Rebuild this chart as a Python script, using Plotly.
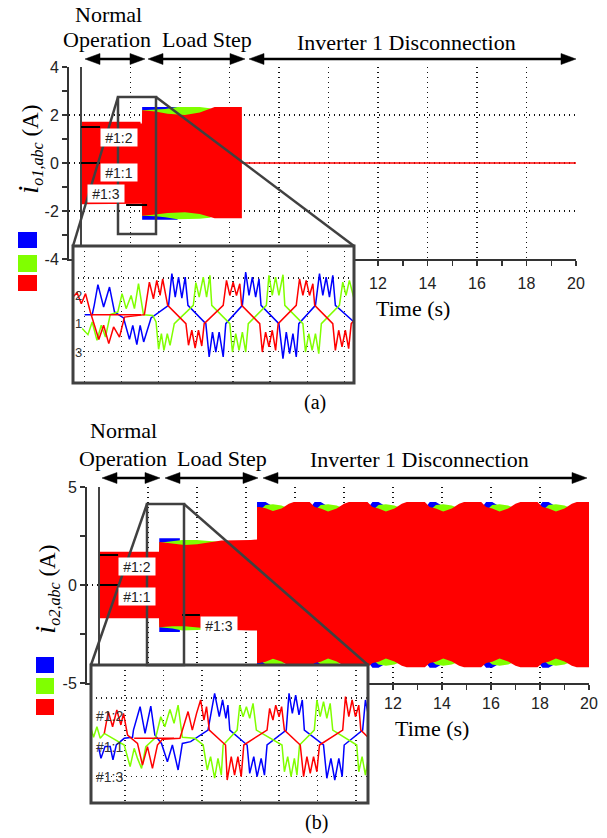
import plotly.graph_objects as go

W, H = 607, 838
def px(x): return x / W
def py(y): return 1 - y / H

BLUE, GREEN, RED = '#0000FF', '#80FF00', '#FF0000'
FRAME = '#404040'
SERIF, SANS = 'Liberation Serif', 'Liberation Sans'

# ---------------- Panel (a): i_o1 envelope (A) vs time (s) ----------------
A_T = [0.0, 2.40, 2.41, 2.46, 2.47, 3.0, 3.5, 4.2, 4.8, 5.2, 5.4, 6.5]
A_RED_UP = [1.72, 1.72, 1.65, 1.65, 2.20, 2.15, 2.05, 2.00, 2.10, 2.25, 2.33, 2.33]
A_RED_LO = [-1.72, -1.72, -1.70, -1.70, -2.20, -2.15, -2.08, -2.05, -2.12, -2.25, -2.30, -2.30]
A_BLUE_T = [2.47, 3.9]
A_BLUE_UP = [2.33, 2.33]
A_BLUE_LO = [-2.36, -2.36]
A_GREEN_T = [2.47, 3.0, 3.4, 3.9, 4.8, 5.2, 5.4]
A_GREEN_UP = [2.20, 2.22, 2.25, 2.33, 2.33, 2.28, 2.20]
A_GREEN_LO = [-2.20, -2.22, -2.26, -2.34, -2.32, -2.28, -2.20]
A_OFF_T = [6.5, 20.0]
A_OFF_I = [0.0, 0.0]
A_CURSOR_T0 = [0.0, 0.0, 1.82]
A_CURSOR_T1 = [0.77, 0.77, 2.67]
A_CURSOR_I = [1.5, 0.0, -1.75]

# ---------------- Panel (b): i_o2 envelope (A) vs time (s) ----------------
B_T12 = [0.0, 2.45, 2.46, 3.0, 3.5, 4.0, 4.5, 5.0, 6.2, 6.45]
B_RED_UP12 = [1.70, 1.70, 2.20, 2.10, 2.04, 2.08, 2.18, 2.27, 2.30, 2.32]
B_RED_LO12 = [-1.70, -1.70, -2.15, -2.10, -2.10, -2.14, -2.22, -2.28, -2.32, -2.32]
B_BLUE_T2 = [2.46, 3.3]
B_BLUE_UP2 = [2.38, 2.38]
B_BLUE_LO2 = [-2.40, -2.40]
B_GREEN_T2 = [2.46, 3.0, 3.4, 4.0, 4.6, 5.0]
B_GREEN_UP2 = [2.15, 2.22, 2.30, 2.30, 2.26, 2.20]
B_GREEN_LO2 = [-2.15, -2.22, -2.32, -2.30, -2.26, -2.20]
B_T3 = [6.45, 6.55, 6.8, 7.1, 7.45, 7.75, 7.95,
        8.6, 8.8, 9.05, 9.35, 9.7, 10.0, 10.2,
        10.96, 11.16, 11.41, 11.71, 12.06, 12.36, 12.56,
        13.3, 13.5, 13.75, 14.05, 14.4, 14.7, 14.9,
        15.6, 15.8, 16.05, 16.35, 16.7, 17.0, 17.2,
        17.9, 18.1, 18.35, 18.65, 19.0, 19.3, 19.5, 20.0]
B_RED_UP3 = [3.98, 3.98, 3.92, 3.78, 3.90, 4.15, 4.23,
             4.23, 3.98, 3.90, 3.75, 3.90, 4.15, 4.23,
             4.23, 3.98, 3.90, 3.75, 3.90, 4.15, 4.23,
             4.23, 3.98, 3.90, 3.75, 3.90, 4.15, 4.23,
             4.23, 3.98, 3.90, 3.75, 3.90, 4.15, 4.23,
             4.23, 3.98, 3.90, 3.75, 3.90, 4.15, 4.23, 4.23]
B_RED_LO3 = [-3.98, -3.98, -3.92, -3.76, -3.90, -4.12, -4.20,
             -4.20, -3.98, -3.92, -3.75, -3.90, -4.12, -4.20,
             -4.20, -3.98, -3.92, -3.75, -3.90, -4.12, -4.20,
             -4.20, -3.98, -3.92, -3.75, -3.90, -4.12, -4.20,
             -4.20, -3.98, -3.92, -3.75, -3.90, -4.12, -4.20,
             -4.20, -3.98, -3.92, -3.75, -3.90, -4.12, -4.20, -4.20]
B_BLUE_UP3 = [4.23, 4.23, 4.23, 4.00, 3.80, 3.80, 3.90,
              3.90, 4.23, 4.23, 4.00, 3.80, 3.80, 3.90,
              3.90, 4.23, 4.23, 4.00, 3.80, 3.80, 3.90,
              3.90, 4.23, 4.23, 4.00, 3.80, 3.80, 3.90,
              3.90, 4.23, 4.23, 4.00, 3.80, 3.80, 3.90,
              3.90, 4.23, 4.23, 4.00, 3.80, 3.80, 3.90, 3.90]
B_BLUE_LO3 = [-4.22, -4.22, -4.22, -4.00, -3.80, -3.80, -3.90,
              -3.90, -4.22, -4.22, -4.00, -3.80, -3.80, -3.90,
              -3.90, -4.22, -4.22, -4.00, -3.80, -3.80, -3.90,
              -3.90, -4.22, -4.22, -4.00, -3.80, -3.80, -3.90,
              -3.90, -4.22, -4.22, -4.00, -3.80, -3.80, -3.90,
              -3.90, -4.22, -4.22, -4.00, -3.80, -3.80, -3.90, -3.90]
B_GREEN_UP3 = [3.80, 3.80, 4.08, 4.12, 4.05, 3.90, 3.80,
               3.80, 3.80, 4.08, 4.12, 4.05, 3.90, 3.80,
               3.80, 3.80, 4.08, 4.12, 4.05, 3.90, 3.80,
               3.80, 3.80, 4.08, 4.12, 4.05, 3.90, 3.80,
               3.80, 3.80, 4.08, 4.12, 4.05, 3.90, 3.80,
               3.80, 3.80, 4.08, 4.12, 4.05, 3.90, 3.80, 3.80]
B_GREEN_LO3 = [-3.80, -3.80, -4.05, -4.12, -4.05, -3.90, -3.80,
               -3.80, -3.80, -4.05, -4.12, -4.05, -3.90, -3.80,
               -3.80, -3.80, -4.05, -4.12, -4.05, -3.90, -3.80,
               -3.80, -3.80, -4.05, -4.12, -4.05, -3.90, -3.80,
               -3.80, -3.80, -4.05, -4.12, -4.05, -3.90, -3.80,
               -3.80, -3.80, -4.05, -4.12, -4.05, -3.90, -3.80, -3.80]
B_CURSOR_T0 = [0.04, 0.04, 3.39]
B_CURSOR_T1 = [0.78, 0.78, 4.12]
B_CURSOR_I = [1.53, 0.0, -1.53]

# ---------------- Inset (a): zoomed waveforms, time in ms, current in A ----------------
INA_BLUE_T = [63, 104, 115, 135, 166, 198, 225, 274, 306, 324, 346, 364, 383, 423,
              518, 536, 554, 572, 590, 608, 623, 720, 738, 756, 774, 792, 814, 828,
              918, 936, 954, 972, 990, 1008, 1019, 1116, 1138, 1156, 1174, 1192, 1210, 1224,
              1314, 1336, 1354, 1372, 1390, 1408, 1422, 1523]
INA_BLUE_I = [0, 0, 0.51, 1.64, 0.42, 1.51, 0.15, -0.18, -1.35, -0.58, -1.64, -0.58, -1.49, -0.18,
              0.51, 2.24, 0.96, 2.05, 0.91, 2.05, 0.51, -0.49, -2.31, -0.95, -2.04, -0.95, -2.31, -0.49,
              0.51, 2.33, 1.05, 2.05, 0.96, 1.96, 0.51, -0.49, -2.4, -0.95, -2.13, -1.04, -2.31, -0.49,
              0.51, 2.24, 1.05, 2.05, 0.96, 2.15, 0.51, -0.4]
INA_GREEN_T = [50, 81, 104, 130, 153, 176, 202, 243, 266, 288, 315, 333, 355, 382,
               432, 450, 464, 479, 493, 511, 526, 549, 652, 666, 684, 706, 724, 742, 752,
               850, 864, 882, 900, 918, 936, 950, 1048, 1062, 1080, 1098, 1116, 1138, 1148,
               1246, 1260, 1278, 1296, 1314, 1332, 1346, 1444, 1462, 1480, 1498, 1523]
INA_GREEN_I = [-0.76, -1.09, -0.4, -1.4, -0.58, -1.22, 0, 0.15, 1.15, 0.33, 1.05, 0.33, 1.69, 0,
               -0.04, -0.4, -1.89, -1.04, -1.95, -1.04, -1.67, -0.49, 0.51, 1.75, 0.96, 2.05, 0.96, 2.15, 0.51,
               -0.49, -2.04, -1.04, -1.95, -0.95, -2.04, -0.49, 0.51, 2.15, 1.05, 2.05, 1.05, 2.18, 0.51,
               -0.49, -2.04, -1.04, -1.95, -1.04, -2.13, -0.49, 0.51, 1.78, 1.05, 1.87, 0.87]
INA_RED_T = [0, 22, 45, 68, 94, 112, 140, 166, 194, 220, 252, 279,
             387, 414, 436, 454, 472, 486, 513, 612, 626, 644, 662, 680, 698, 711,
             814, 832, 850, 868, 886, 904, 914, 1012, 1026, 1044, 1062, 1080, 1098, 1112,
             1210, 1228, 1246, 1264, 1282, 1300, 1310, 1408, 1422, 1440, 1458, 1476, 1494, 1508, 1523]
INA_RED_I = [0.96, 1.2, 0.6, 1.15, 0.15, -0.49, -1.35, -0.58, -1.58, -0.67, -1.22, -0.13,
             0, 1.78, 0.87, 1.87, 1.05, 1.96, 0.51, -0.49, -1.67, -0.85, -1.82, -0.85, -1.71, -0.49,
             0.51, 1.87, 1.05, 1.78, 1.05, 1.69, 0.51, -0.49, -2.04, -0.95, -1.76, -0.85, -1.95, -0.49,
             0.51, 1.96, 1.05, 1.87, 1.05, 1.69, 0.51, -0.49, -1.95, -0.85, -1.76, -0.85, -1.85, -0.49, -0.31]
INA_RED_FLAT_T = [99, 369]
INA_RED_FLAT_I = [0, 0]

# ---------------- Inset (b) ----------------
INB_BLUE_T = [40, 54, 76, 104, 119, 137, 180, 225, 230, 266, 293, 324, 346, 382, 414, 441, 472, 495,
              540, 634, 670, 695, 713, 731, 742, 752, 846, 860, 882, 900, 922, 940, 954,
              1058, 1073, 1091, 1109, 1127, 1145, 1156, 1260, 1278, 1300, 1321, 1343, 1361, 1372,
              1472, 1487, 1501]
INB_BLUE_I = [-0.47, -1.07, -0.47, -0.47, -1.15, -0.39, -0.05, 0, 0.37, 1.56, 0.2, 1.59, 0.12,
              -0.31, -1.24, -0.39, -1.66, -0.31, -0.22, 0.37, 2.24, 1.05, 1.9, 0.97, 1.64, 0.37,
              -0.39, -1.83, -0.98, -2.0, -1.07, -1.92, -0.39, 0.37, 2.24, 1.22, 2.15, 1.14, 1.9, 0.37,
              -0.39, -2.08, -1.07, -2.17, -1.07, -2.0, -0.39, 0.37, 1.9, 1.22]
INB_RED_T = [72, 94, 117, 140, 162, 176, 198, 252, 279, 306, 333, 360, 387,
             482, 526, 549, 572, 594, 612, 626, 641, 729, 738, 760, 778, 796, 814, 828,
             954, 968, 986, 1001, 1019, 1033, 1048, 1134, 1152, 1170, 1188, 1206, 1224, 1238,
             1364, 1379, 1397, 1415, 1433, 1451, 1462, 1501]
INB_RED_I = [0.2, 1.31, 0.54, 1.39, 0.63, 1.22, 0.12, -0.31, -1.41, -0.47, -1.58, -0.39, -0.1,
             -0.05, 1.31, 0.37, 1.22, 1.9, 0.88, 1.56, 0.37, -0.39, -2.17, -0.98, -1.92, -0.98, -2.0, -0.39,
             0.37, 1.47, 0.88, 1.64, 1.05, 1.56, 0.37, -0.39, -2.0, -0.98, -1.83, -0.98, -1.75, -0.39,
             0.37, 2.07, 1.05, 1.9, 1.05, 1.64, 0.37, 0]
INB_RED_FLAT_T = [234, 450]
INB_RED_FLAT_I = [-0.05, -0.05]
INB_GREEN_T = [0, 14, 32, 50, 72, 180, 212, 234, 252, 274, 297, 351, 378, 400, 428, 450, 472, 495,
               562, 608, 630, 648, 670, 688, 706, 716, 792, 806, 824, 842, 860, 878, 896,
               1035, 1048, 1066, 1084, 1102, 1116, 1130, 1210, 1224, 1242, 1260, 1278, 1296, 1310,
               1440, 1451, 1469, 1487, 1501]
INB_GREEN_I = [0.46, 0, 0.54, -0.05, 0.2, -0.39, -1.49, -0.56, -1.07, -1.58, -0.47, 0, 1.05, 0.54,
               1.42, 0.71, 1.64, 0, -0.05, -0.39, -1.66, -0.98, -2.08, -1.07, -1.92, -0.39,
               0.37, 1.64, 1.05, 1.56, 0.97, 1.73, 0.37, -0.39, -1.75, -0.98, -2.0, -1.07, -1.92, -0.39,
               0.37, 1.9, 1.05, 1.81, 0.97, 1.73, 0.37, -0.39, -1.75, -0.98, -1.92, -1.15]

# tick labels
A_Y_TICKS = [-4, -2, 0, 2, 4]
B_Y_TICKS = [-5, 0, 5]
X_TICKS = [0, 2, 4, 6, 8, 10, 12, 14, 16, 18, 20]

fig = go.Figure()

def add_band(t, up, lo, color, xa, ya):
    x = list(t) + list(t)[::-1]
    y = list(up) + list(lo)[::-1]
    fig.add_trace(go.Scatter(x=x, y=y, fill='toself', fillcolor=color, mode='lines',
                             line=dict(width=0, color=color), xaxis=xa, yaxis=ya,
                             hoverinfo='skip'))

def add_line(t, v, color, xa, ya, w=1.5):
    fig.add_trace(go.Scatter(x=t, y=v, mode='lines', line=dict(color=color, width=w),
                             xaxis=xa, yaxis=ya, hoverinfo='skip'))

# panel (a)
add_band(A_BLUE_T, A_BLUE_UP, A_BLUE_LO, BLUE, 'x', 'y')
add_band(A_GREEN_T, A_GREEN_UP, A_GREEN_LO, GREEN, 'x', 'y')
add_band(A_T, A_RED_UP, A_RED_LO, RED, 'x', 'y')
add_line(A_OFF_T, A_OFF_I, RED, 'x', 'y', 1.6)

# panel (b)
add_band(B_BLUE_T2, B_BLUE_UP2, B_BLUE_LO2, BLUE, 'x2', 'y2')
add_band(B_T3, B_BLUE_UP3, B_BLUE_LO3, BLUE, 'x2', 'y2')
add_band(B_GREEN_T2, B_GREEN_UP2, B_GREEN_LO2, GREEN, 'x2', 'y2')
add_band(B_T3, B_GREEN_UP3, B_GREEN_LO3, GREEN, 'x2', 'y2')
add_band(B_T12 + B_T3, B_RED_UP12 + B_RED_UP3, B_RED_LO12 + B_RED_LO3, RED, 'x2', 'y2')

# inset (a)
add_line(INA_BLUE_T, INA_BLUE_I, BLUE, 'x3', 'y3')
add_line(INA_GREEN_T, INA_GREEN_I, GREEN, 'x3', 'y3')
add_line(INA_RED_FLAT_T, INA_RED_FLAT_I, RED, 'x3', 'y3')
add_line(INA_RED_T, INA_RED_I, RED, 'x3', 'y3')
# inset (b)
add_line(INB_BLUE_T, INB_BLUE_I, BLUE, 'x4', 'y4')
add_line(INB_GREEN_T, INB_GREEN_I, GREEN, 'x4', 'y4')
add_line(INB_RED_FLAT_T, INB_RED_FLAT_I, RED, 'x4', 'y4')
add_line(INB_RED_T, INB_RED_I, RED, 'x4', 'y4')

DOT = '1px,4px'
tickfont = dict(family=SANS, size=16, color='#222')

def main_x(dom, rng, anchor, standoff):
    return dict(domain=dom, range=rng, anchor=anchor, showline=True, linecolor='#333', linewidth=2,
                ticks='outside', ticklen=5, tickwidth=1.5, tickcolor='#333',
                tickvals=X_TICKS, ticktext=[str(v) for v in X_TICKS],
                minor=dict(dtick=1, tick0=0, ticks='outside', ticklen=5, tickwidth=1.5, tickcolor='#333'),
                showgrid=True, gridcolor='#111', gridwidth=1.3, griddash=DOT, zeroline=False,
                tickfont=tickfont, ticklabelstandoff=standoff, fixedrange=True, automargin=False)

def main_y(dom, rng, anchor, ticks, minor):
    return dict(domain=dom, range=rng, anchor=anchor, showline=True, linecolor='#333', linewidth=2,
                ticks='outside', ticklen=5, tickwidth=1.5, tickcolor='#333',
                tickvals=ticks, ticktext=[str(v) for v in ticks],
                minor=dict(dtick=minor, tick0=0, ticks='outside', ticklen=5, tickwidth=1.5, tickcolor='#333'),
                showgrid=True, gridcolor='#111', gridwidth=1.3, griddash=DOT, zeroline=False,
                tickfont=tickfont, fixedrange=True, automargin=False)

def inset_x(dom, rng, anchor, t0, dt):
    return dict(domain=dom, range=rng, anchor=anchor, showticklabels=False, ticks='', showline=False,
                tick0=t0, dtick=dt, showgrid=True, gridcolor='#222', gridwidth=1.2, griddash=DOT,
                zeroline=False, fixedrange=True, automargin=False)

def inset_y(dom, rng, anchor):
    return dict(domain=dom, range=rng, anchor=anchor, showticklabels=False, ticks='', showline=False,
                tickvals=[-2, 2], showgrid=True, gridcolor='#222', gridwidth=1.2, griddash=DOT,
                zeroline=False, fixedrange=True, automargin=False)

fig.update_layout(
    width=W, height=H, margin=dict(l=0, r=0, t=0, b=0, autoexpand=False),
    paper_bgcolor='white', plot_bgcolor='white', showlegend=False,
    xaxis=main_x([px(69), px(576)], [-0.485, 20], 'y', 4),
    yaxis=main_y([py(259), py(67)], [-4, 4], 'x', A_Y_TICKS, 1),
    xaxis2=main_x([px(87), px(589)], [-0.49, 20], 'y2', 0),
    yaxis2=main_y([py(683), py(487)], [-5, 5], 'x2', B_Y_TICKS, 2.5),
    xaxis3=inset_x([px(73), px(354)], [0, 1523], 'y3', 63, 201),
    yaxis3=inset_y([py(383), py(246)], [-3.73, 3.75], 'x3'),
    xaxis4=inset_x([px(91), px(368)], [0, 1501], 'y4', 184, 208.7),
    yaxis4=inset_y([py(803), py(665)], [-3.34, 3.68], 'x4'),
)

shapes = []
ann = []

def pline(x0, y0, x1, y1, color=FRAME, w=2.5):
    shapes.append(dict(type='line', xref='paper', yref='paper', x0=px(x0), y0=py(y0), x1=px(x1), y1=py(y1),
                       line=dict(color=color, width=w), layer='above'))

def prect(x0, y0, x1, y1, color=FRAME, w=2.5, fill=None):
    shapes.append(dict(type='rect', xref='paper', yref='paper', x0=px(x0), y0=py(y0), x1=px(x1), y1=py(y1),
                       line=dict(color=color, width=w), fillcolor=fill, layer='above'))

def tri(xt, y, xb, half):
    p = f'M {px(xt)},{py(y)} L {px(xb)},{py(y - half)} L {px(xb)},{py(y + half)} Z'
    shapes.append(dict(type='path', xref='paper', yref='paper', path=p, fillcolor='black',
                       line=dict(color='black', width=0.5), layer='above'))

def darrow(x0, x1, y, head=15, half=5.5):
    pline(x0 + head - 2, y, x1 - head + 2, y, 'black', 2.5)
    tri(x0, y, x0 + head, half)
    tri(x1, y, x1 - head, half)

def text(x, y, s, size=22, family=SERIF, color='black', **kw):
    ann.append(dict(xref='paper', yref='paper', x=px(x), y=py(y), text=s, showarrow=False,
                    xanchor='center', yanchor='middle', font=dict(family=family, size=size, color=color), **kw))

# inset white backgrounds (drawn in inset subplot, under its grid)
shapes.append(dict(type='rect', xref='x3', yref='y3', x0=0, x1=1523, y0=-3.73, y1=3.75,
                   fillcolor='white', line=dict(width=0), layer='below'))
shapes.append(dict(type='rect', xref='x4', yref='y4', x0=0, x1=1501, y0=-3.34, y1=3.68,
                   fillcolor='white', line=dict(width=0), layer='below'))

# t = 0 reference lines
shapes.append(dict(type='line', xref='x', yref='y', x0=0, x1=0, y0=-3.45, y1=4,
                   line=dict(color='#444', width=2), layer='above'))
shapes.append(dict(type='line', xref='x2', yref='y2', x0=0, x1=0, y0=-4.08, y1=5,
                   line=dict(color='#444', width=2), layer='above'))
# cursor markers
for t0, t1, v in zip(A_CURSOR_T0, A_CURSOR_T1, A_CURSOR_I):
    shapes.append(dict(type='line', xref='x', yref='y', x0=t0, x1=t1, y0=v, y1=v,
                       line=dict(color='black', width=2), layer='above'))
for t0, t1, v in zip(B_CURSOR_T0, B_CURSOR_T1, B_CURSOR_I):
    shapes.append(dict(type='line', xref='x2', yref='y2', x0=t0, x1=t1, y0=v, y1=v,
                       line=dict(color='black', width=2), layer='above'))

# zoom boxes, connectors and inset frames
prect(118, 97, 156, 234)
pline(118, 97, 73, 246)
pline(156, 97, 354, 246)
prect(73, 246, 354, 383, w=3)
prect(147, 504, 184, 665)
pline(147, 504, 91, 665)
pline(184, 504, 368, 665)
prect(91, 665, 368, 803, w=3)

# legend squares
for (x0, y0, x1, y1, c) in [(18, 232, 37, 248, BLUE), (18, 255, 37, 272, GREEN), (18, 275, 37, 291, RED),
                            (36, 657, 54, 673, BLUE), (36, 678, 54, 694, GREEN), (36, 699, 54, 715, RED)]:
    shapes.append(dict(type='rect', xref='paper', yref='paper', x0=px(x0), y0=py(y0), x1=px(x1), y1=py(y1),
                       fillcolor=c, line=dict(width=0), layer='above'))

# period arrows
darrow(85, 145, 59); darrow(148, 245, 59); darrow(249, 576, 59)
darrow(102, 160, 478); darrow(165, 258, 478); darrow(263, 587, 478)

# period texts
text(108, 14, 'Normal'); text(107, 40, 'Operation'); text(207, 40, 'Load Step')
text(406, 42, 'Inverter 1 Disconnection')
text(123, 431, 'Normal'); text(123, 458, 'Operation'); text(222, 458, 'Load Step')
text(419, 459, 'Inverter 1 Disconnection')

# axis titles
text(413, 308, 'Time (s)')
text(432, 728, 'Time (s)')
text(28, 150, "<i><span style='font-size:30px'>i</span><sub>o1,abc</sub></i> (A)", size=23, textangle=-90)
text(45, 590, "<i><span style='font-size:30px'>i</span><sub>o2,abc</sub></i> (A)", size=23, textangle=-90)
text(315, 402, '(a)', size=20)
text(316, 822, '(b)', size=20)

# cursor labels
def clabel(x, y, s):
    ann.append(dict(xref='paper', yref='paper', x=px(x), y=py(y), text=s, showarrow=False,
                    xanchor='center', yanchor='middle', bgcolor='white', width=36, height=17, borderpad=0,
                    font=dict(family=SANS, size=14, color='#222')))
clabel(119, 138, '#1:2'); clabel(119, 172, '#1:1'); clabel(106, 193, '#1:3')
clabel(137, 566, '#1:2'); clabel(137, 596, '#1:1'); clabel(219, 625, '#1:3')

# inset channel labels
text(78, 295, '2', size=13, family=SANS, color='#333')
text(78, 323, '1', size=13, family=SANS, color='#333')
text(78, 352, '3', size=13, family=SANS, color='#333')
text(109, 716, '#1:2', size=14, family=SANS, color='#333')
text(109, 747, '#1:1', size=14, family=SANS, color='#333')
text(109, 777, '#1:3', size=14, family=SANS, color='#333')

fig.update_layout(shapes=shapes, annotations=ann)
fig.write_html('out.html', config={'staticPlot': True},
               post_script="document.body.style.margin='0px';document.body.style.overflow='hidden';")
